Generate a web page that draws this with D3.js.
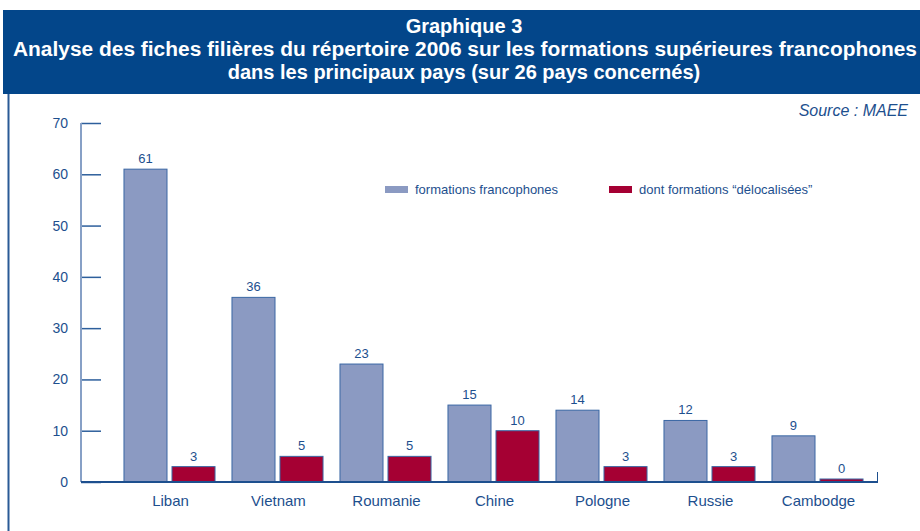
<!DOCTYPE html>
<html>
<head>
<meta charset="utf-8">
<script src="https://cdn.jsdelivr.net/npm/d3@7"></script>
<style>
  body { margin: 0; background: #fff; }
  text { font-family: "Liberation Sans", Arial, sans-serif; }
</style>
</head>
<body>
<script>
// data
var countries = ["Liban", "Vietnam", "Roumanie", "Chine", "Pologne", "Russie", "Cambodge"];
var francophones = [61, 36, 23, 15, 14, 12, 9];
var delocalisees = [3, 5, 5, 10, 3, 3, 0];
var seriesNames = ["formations francophones", "dont formations \u201cdélocalisées\u201d"];
var yTicks = [0, 10, 20, 30, 40, 50, 60, 70];
var titleLines = ["Graphique 3",
  "Analyse des fiches filières du répertoire 2006 sur les formations supérieures francophones",
  "dans les principaux pays (sur 26 pays concernés)"];

var W = 920, H = 531;
var blue = "#03468a", textBlue = "#1d4f8e";
var colors = ["#8b9ac2", "#a50033"];

var svg = d3.select("body").append("svg")
    .attr("width", W)
    .attr("height", H);

// header
svg.append("rect")
    .attr("x", 3).attr("y", 10)
    .attr("width", W - 3).attr("height", 84)
    .attr("fill", blue);

svg.append("line")
    .attr("x1", 8.5).attr("x2", 8.5)
    .attr("y1", 94).attr("y2", H)
    .attr("stroke", "#2a5a96").attr("stroke-width", 2);

svg.selectAll(".title")
    .data(titleLines)
  .enter().append("text")
    .attr("class", "title")
    .attr("x", function(d, i) { return i == 1 ? 465 : 464; })
    .attr("y", function(d, i) { return 33 + i * 23; })
    .attr("text-anchor", "middle")
    .attr("fill", "#fff")
    .style("font-weight", "bold")
    .style("font-size", "20px")
    .text(function(d) { return d; })
    .each(function(d, i) {
      if (i == 1) d3.select(this).attr("textLength", 904).attr("lengthAdjust", "spacingAndGlyphs");
    });

svg.append("text")
    .attr("x", 908).attr("y", 116)
    .attr("text-anchor", "end")
    .attr("fill", textBlue)
    .style("font-style", "italic")
    .style("font-size", "16px")
    .text("Source : MAEE");

// scales
var y = d3.scaleLinear().domain([0, 70]).range([482, 123]);

var x0 = d3.scaleBand()
    .domain(countries)
    .range([115.5, 871.5])
    .paddingInner(0.157)
    .paddingOuter(0.0785);

var x1 = d3.scaleBand()
    .domain([0, 1])
    .range([0, x0.bandwidth()])
    .paddingInner(0.104);

// y axis
var yAxis = svg.append("g")
    .attr("transform", "translate(81,0)")
    .call(d3.axisRight(y).tickValues(yTicks).tickSize(20).tickFormat(""));
yAxis.select(".domain").remove();
yAxis.selectAll(".tick line").attr("stroke", "#2d5f9c").attr("stroke-width", 1.5);

svg.append("line")
    .attr("x1", 81).attr("x2", 81)
    .attr("y1", y(70)).attr("y2", y(0))
    .attr("stroke", "#87a0c6").attr("stroke-width", 2);

svg.selectAll(".ylab")
    .data(yTicks)
  .enter().append("text")
    .attr("class", "ylab")
    .attr("x", 68)
    .attr("y", function(d) { return y(d) + 5; })
    .attr("text-anchor", "end")
    .attr("fill", textBlue)
    .style("font-size", "14px")
    .text(function(d) { return d; });

// bars
var groups = svg.selectAll(".group")
    .data(countries)
  .enter().append("g")
    .attr("class", "group")
    .attr("transform", function(d) { return "translate(" + x0(d) + ",0)"; });

groups.selectAll("rect")
    .data(function(d, i) { return [francophones[i], delocalisees[i]]; })
  .enter().append("rect")
    .attr("x", function(d, j) { return x1(j); })
    .attr("y", function(d) { return Math.min(y(d), y(0) - 3); })
    .attr("width", x1.bandwidth())
    .attr("height", function(d) { return Math.max(y(0) - y(d), 3); })
    .attr("fill", function(d, j) { return colors[j]; })
    .attr("stroke", "#3a67a4")
    .attr("stroke-width", 1);

groups.selectAll(".val")
    .data(function(d, i) { return [francophones[i], delocalisees[i]]; })
  .enter().append("text")
    .attr("class", "val")
    .attr("x", function(d, j) { return x1(j) + x1.bandwidth() / 2; })
    .attr("y", function(d) { return Math.min(y(d), y(0) - 3) - 6; })
    .attr("text-anchor", "middle")
    .attr("fill", textBlue)
    .style("font-size", "13px")
    .text(function(d) { return d; });

// x axis
svg.append("line")
    .attr("x1", 81).attr("x2", 878)
    .attr("y1", y(0)).attr("y2", y(0))
    .attr("stroke", "#1d4f8e").attr("stroke-width", 2);
svg.append("line")
    .attr("x1", 877.5).attr("x2", 877.5)
    .attr("y1", y(0)).attr("y2", y(0) - 10)
    .attr("stroke", "#1d4f8e").attr("stroke-width", 1);

svg.selectAll(".xlab")
    .data(countries)
  .enter().append("text")
    .attr("class", "xlab")
    .attr("x", function(d) { return x0(d) + x0.bandwidth() / 2 + 1; })
    .attr("y", 506)
    .attr("text-anchor", "middle")
    .attr("fill", textBlue)
    .style("font-size", "15px")
    .text(function(d) { return d; });

// legend
var legend = svg.selectAll(".legend")
    .data(seriesNames)
  .enter().append("g")
    .attr("class", "legend")
    .attr("transform", function(d, i) { return "translate(" + (385 + i * 224) + ",186)"; });

legend.append("rect")
    .attr("width", 23).attr("height", 7)
    .attr("fill", function(d, i) { return colors[i]; });

legend.append("text")
    .attr("x", 30).attr("y", 8)
    .attr("fill", textBlue)
    .style("font-size", "13px")
    .text(function(d) { return d; });
</script>
</body>
</html>
